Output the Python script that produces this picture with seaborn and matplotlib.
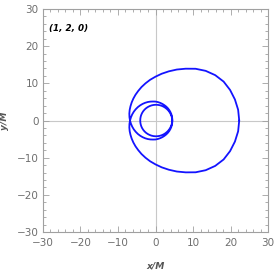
"""
Zoom-whirl periodic orbit (1, 2, 0) in the equatorial plane.
"""

import numpy as np
import matplotlib.pyplot as plt
import seaborn as sns
from matplotlib.ticker import MultipleLocator

# orbit: polar angle (deg) and radius (M), every 7.5 deg,
# apastron -> periastron (540 deg) -> apastron (1080 deg)
ANGLE_DEG = [
    0, 7.5, 15, 22.5, 30, 37.5, 45, 52.5, 60, 67.5, 75, 82.5,
    90, 97.5, 105, 112.5, 120, 127.5, 135, 142.5, 150, 157.5, 165, 172.5,
    180, 187.5, 195, 202.5, 210, 217.5, 225, 232.5, 240, 247.5, 255, 262.5,
    270, 277.5, 285, 292.5, 300, 307.5, 315, 322.5, 330, 337.5, 345, 352.5,
    360, 367.5, 375, 382.5, 390, 397.5, 405, 412.5, 420, 427.5, 435, 442.5,
    450, 457.5, 465, 472.5, 480, 487.5, 495, 502.5, 510, 517.5, 525, 532.5,
    540, 547.5, 555, 562.5, 570, 577.5, 585, 592.5, 600, 607.5, 615, 622.5,
    630, 637.5, 645, 652.5, 660, 667.5, 675, 682.5, 690, 697.5, 705, 712.5,
    720, 727.5, 735, 742.5, 750, 757.5, 765, 772.5, 780, 787.5, 795, 802.5,
    810, 817.5, 825, 832.5, 840, 847.5, 855, 862.5, 870, 877.5, 885, 892.5,
    900, 907.5, 915, 922.5, 930, 937.5, 945, 952.5, 960, 967.5, 975, 982.5,
    990, 997.5, 1005, 1012.5, 1020, 1027.5, 1035, 1042.5, 1050, 1057.5, 1065, 1072.5,
    1080,
]
RADIUS = [
    22.3, 22.2, 21.9, 21.5, 20.95, 20.05, 18.9, 17.55, 16.1, 14.85, 13.7, 12.7,
    11.8, 11.05, 10.35, 9.75, 9.2, 8.75, 8.35, 8.0, 7.7, 7.45, 7.22, 7.0,
    6.8, 6.6, 6.42, 6.25, 6.08, 5.93, 5.78, 5.64, 5.51, 5.39, 5.27, 5.16,
    5.1, 5.0, 4.91, 4.83, 4.76, 4.71, 4.66, 4.62, 4.58, 4.55, 4.52, 4.495,
    4.47, 4.445, 4.42, 4.395, 4.375, 4.355, 4.335, 4.315, 4.3, 4.285, 4.27, 4.255,
    4.24, 4.22, 4.205, 4.185, 4.17, 4.155, 4.14, 4.125, 4.11, 4.095, 4.085, 4.075,
    4.07, 4.075, 4.085, 4.095, 4.11, 4.125, 4.14, 4.155, 4.17, 4.185, 4.205, 4.22,
    4.24, 4.255, 4.27, 4.285, 4.3, 4.315, 4.335, 4.355, 4.375, 4.395, 4.42, 4.445,
    4.47, 4.495, 4.52, 4.55, 4.58, 4.62, 4.66, 4.71, 4.76, 4.83, 4.91, 5.0,
    5.1, 5.16, 5.27, 5.39, 5.51, 5.64, 5.78, 5.93, 6.08, 6.25, 6.42, 6.6,
    6.8, 7.0, 7.22, 7.45, 7.7, 8.0, 8.35, 8.75, 9.2, 9.75, 10.35, 11.05,
    11.8, 12.7, 13.7, 14.85, 16.1, 17.55, 18.9, 20.05, 20.95, 21.5, 21.9, 22.2,
    22.3,
]
ORBIT_LABEL = "(1, 2, 0)"
TICKS = [-30, -20, -10, 0, 10, 20, 30]

FRAME = "#a0a0a0"
TEXT = "#6e6e6e"


def main() -> None:
    sns.set_style("ticks")
    plt.rcParams["font.family"] = ["DejaVu Sans"]

    phi = np.radians(ANGLE_DEG)
    r = np.array(RADIUS)
    x = r * np.cos(phi)
    y = r * np.sin(phi)

    fig = plt.figure(figsize=(2.75, 2.73), dpi=100)
    ax = fig.add_axes([0.156, 0.150, 0.819, 0.817])

    ax.axhline(0, color="#c8c8c8", lw=0.8, zorder=0)
    ax.axvline(0, color="#c8c8c8", lw=0.8, zorder=0)
    sns.lineplot(x=x, y=y, sort=False, estimator=None, color="#1414ff",
                 lw=1.3, ax=ax)

    ax.set_xlim(-30, 30)
    ax.set_ylim(-30, 30)
    ax.set_xticks(TICKS)
    ax.set_yticks(TICKS)
    ax.xaxis.set_minor_locator(MultipleLocator(2))
    ax.yaxis.set_minor_locator(MultipleLocator(2))
    for s in ax.spines.values():
        s.set_visible(True)
        s.set_color(FRAME)
        s.set_linewidth(0.8)
    ax.tick_params(which="both", direction="in", top=True, right=True,
                   color=FRAME, width=0.6, labelsize=7.5, labelcolor=TEXT, pad=3)
    ax.tick_params(which="major", length=4)
    ax.tick_params(which="minor", length=2)
    ax.tick_params(axis="x", pad=4)

    ax.set_xlabel("x/M", fontsize=6.6, style="italic", weight="bold",
                  color="#555555", labelpad=10)
    ax.set_ylabel("y/M", fontsize=6.6, style="italic", weight="bold",
                  color="#555555", labelpad=6)
    ax.text(-28.5, 24.8, ORBIT_LABEL, fontsize=6.3, style="italic",
            weight="bold", color="black", va="center")

    fig.savefig("out.png", dpi=100)
    plt.close(fig)


if __name__ == "__main__":
    main()
